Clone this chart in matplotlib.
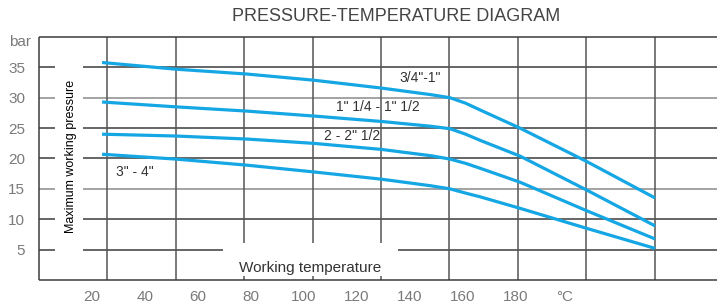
import matplotlib
matplotlib.use("Agg")
import matplotlib.pyplot as plt
from matplotlib.patches import Rectangle

plt.rcParams['font.family'] = ['Liberation Sans', 'DejaVu Sans']

# Data (temperature in °C, pressure in bar)
temp_34_1 = [23.8, 51.7, 78.5, 103.4, 129.1, 148.0, 155.1, 161.0, 166.4, 181.5, 206.7, 232.5]
pres_34_1 = [35.8, 34.7, 33.9, 32.9, 31.6, 30.5, 30.0, 29.1, 28.0, 25.0, 19.5, 13.5]

temp_114_112 = [23.8, 51.7, 78.5, 103.4, 129.1, 148.0, 155.1, 161.0, 166.4, 181.5, 206.7, 232.5]
pres_114_112 = [29.3, 28.5, 27.8, 27.0, 26.1, 25.3, 24.9, 24.0, 23.0, 20.4, 14.8, 8.9]

temp_2_212 = [23.8, 51.7, 78.5, 103.4, 129.1, 148.0, 155.1, 161.0, 166.4, 181.5, 206.7, 232.5]
pres_2_212 = [24.0, 23.7, 23.2, 22.5, 21.5, 20.45, 19.9, 19.2, 18.4, 16.1, 11.4, 6.75]

temp_3_4 = [23.8, 51.7, 78.5, 103.4, 129.1, 148.0, 155.1, 161.0, 166.4, 181.5, 206.7, 232.5]
pres_3_4 = [20.7, 19.9, 18.9, 17.8, 16.6, 15.5, 15.0, 14.3, 13.7, 11.8, 8.5, 5.2]

series_labels = ['3/4"-1"', '1" 1/4 - 1" 1/2', '2 - 2" 1/2', '3" - 4"']

x_ticks = [20, 40, 60, 80, 100, 120, 140, 160, 180]
y_ticks = [5, 10, 15, 20, 25, 30, 35]

# Grid of the drawing (does not line up with tick labels in the original)
grid_temps = [25.66, 51.70, 77.36, 103.40, 129.06, 154.72, 180.75, 206.42, 232.45]
x_max = 255.85

fig = plt.figure(figsize=(7.17, 3.08), dpi=100)
ax = fig.add_axes([0.0544, 0.0909, 0.9456, 0.789])
ax.set_xlim(0, x_max)
ax.set_ylim(0, 40)
for s in ax.spines.values():
    s.set_visible(False)

dark = '#3c3c3c'
light = '#8a8a8a'
lw = 1.1

# grid
for p in y_ticks:
    c = light if p in (15, 30) else dark
    ax.hlines(p, 0, x_max, color=c, lw=lw, zorder=1)
for t in grid_temps:
    ax.vlines(t, 0, 40, color='#555555', lw=lw, zorder=1)
ax.hlines([0, 40], 0, x_max, color=dark, lw=lw, zorder=1, clip_on=False)
ax.vlines(0, 0, 40, color=dark, lw=lw, zorder=1, clip_on=False)

# white boxes behind the axis titles
ax.add_patch(Rectangle((6.0, 3.1), 10.6, 34.8, facecolor='white', edgecolor='none', zorder=2))
ax.add_patch(Rectangle((69.4, 0.6), 66.1, 5.5, facecolor='white', edgecolor='none', zorder=2))

blue = '#15a6e4'
for tx, py in [(temp_34_1, pres_34_1), (temp_114_112, pres_114_112),
               (temp_2_212, pres_2_212), (temp_3_4, pres_3_4)]:
    ax.plot(tx, py, color=blue, lw=2.3, solid_joinstyle='round',
            solid_capstyle='butt', zorder=3)

# curve labels
label_pos = [(143.8, 33.3), (127.9, 28.4), (118.1, 23.7), (36.2, 17.7)]
for txt, (x, y) in zip(series_labels, label_pos):
    ax.text(x, y, txt, fontsize=10, color='#333333', ha='center', va='center', zorder=4)

ax.text(12.1, 20.4, 'Maximum working pressure', rotation=90, fontsize=9,
        color='black', ha='center', va='center', zorder=4)
ax.text(102.3, 2.0, 'Working temperature', fontsize=11, color='#333333',
        ha='center', va='center', zorder=4)

# ticks
ax.set_xticks(x_ticks + [198.5])
ax.set_xticklabels([str(v) for v in x_ticks] + ['°C'])
ax.set_yticks(y_ticks)
ax.set_yticklabels([str(v) for v in y_ticks])
ax.tick_params(axis='both', length=0, labelsize=11, labelcolor='#7a7a7a')
ax.tick_params(axis='x', pad=7)
ax.tick_params(axis='y', pad=10)
ax.text(-7.2, 39.1, 'bar', fontsize=11, color='#7a7a7a', ha='center', va='center',
        clip_on=False)

fig.text(0.552, 0.945, 'PRESSURE-TEMPERATURE DIAGRAM', fontsize=13,
         color='#444444', ha='center', va='center')

fig.savefig('out.png', dpi=100)
